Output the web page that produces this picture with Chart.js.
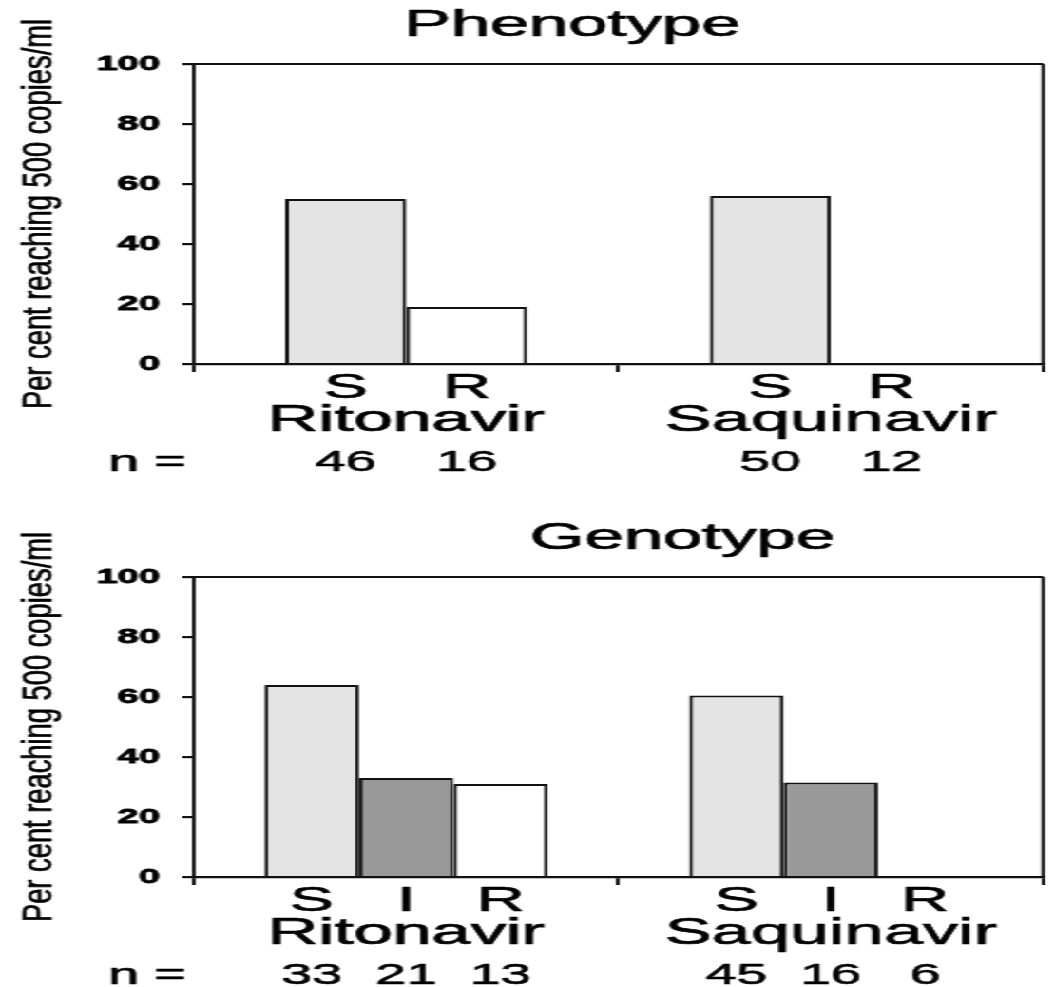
<!DOCTYPE html>
<html>
<head>
<meta charset="utf-8">
<script src="https://cdn.jsdelivr.net/npm/chart.js@4.4.0/dist/chart.umd.min.js"></script>
<style>
  html, body { margin: 0; padding: 0; background: #fff; overflow: hidden; }
  /* the figure is drawn narrow and stretched sideways, like the printed version */
  #wrap { width: 555px; transform: scaleX(1.9009); transform-origin: 0 0; }
  canvas { display: block; }
</style>
</head>
<body>
<div id="wrap">
  <canvas id="phenoChart" width="555" height="500"></canvas>
  <canvas id="genoChart" width="555" height="487"></canvas>
</div>
<script>
// drugs on the x axis
const drugs = ['Ritonavir', 'Saquinavir'];

// Phenotype: per cent reaching 500 copies/ml, by susceptible / resistant
const phenoS = [55, 56];
const phenoR = [19, 0];
const phenoCountS = [46, 50];
const phenoCountR = [16, 12];

// Genotype: susceptible / intermediate / resistant
const genoS = [64, 60.5];
const genoI = [33, 31.5];
const genoR = [31, 0];
const genoCountS = [33, 45];
const genoCountI = [21, 16];
const genoCountR = [13, 6];

const yTicks = [0, 20, 40, 60, 80, 100];

const FONT = '"Liberation Sans", Arial, Helvetica, sans-serif';
const INK = '#000';
const LINE = '#111';

// text drawn with a thin outline so it reads as heavy as print
function inkText(ctx, text, x, y, stroke) {
    ctx.lineWidth = stroke;
    ctx.strokeStyle = INK;
    ctx.strokeText(text, x, y);
    ctx.fillText(text, x, y);
}

// Box, title, class letters, n counts and the rotated y title
const panelText = {
    id: 'panelText',
    afterDraw(chart, args, opts) {
        const ctx = chart.ctx;
        const area = chart.chartArea;
        ctx.save();

        // top and right edges of the plot box
        ctx.strokeStyle = LINE;
        ctx.lineWidth = 2.2;
        ctx.beginPath();
        ctx.moveTo(area.left, area.top);
        ctx.lineTo(area.right, area.top);
        ctx.stroke();
        ctx.lineWidth = 1.9;
        ctx.beginPath();
        ctx.moveTo(area.right, area.top);
        ctx.lineTo(area.right, area.bottom);
        ctx.stroke();

        ctx.fillStyle = INK;
        ctx.textAlign = 'center';
        ctx.textBaseline = 'alphabetic';
        ctx.lineJoin = 'round';

        ctx.font = '37px ' + FONT;
        inkText(ctx, opts.title, area.left + opts.titleOffset, area.top - 28, 0.7);

        // letter and n under every bar
        chart.data.datasets.forEach((ds, i) => {
            const meta = chart.getDatasetMeta(i);
            meta.data.forEach((bar, j) => {
                ctx.font = '35px ' + FONT;
                inkText(ctx, ds.label, bar.x, area.bottom + 34, 0.7);
                ctx.font = '29px ' + FONT;
                inkText(ctx, String(opts.counts[i][j]), bar.x, area.bottom + 107, 0.6);
            });
        });
        ctx.textAlign = 'right';
        ctx.font = '29px ' + FONT;
        inkText(ctx, 'n =', area.left - 4, area.bottom + 107, 0.6);

        // y axis title, stretched along its length
        ctx.translate(21, (area.top + area.bottom) / 2);
        ctx.rotate(-Math.PI / 2);
        ctx.scale(1.27, 1);
        ctx.textAlign = 'center';
        ctx.textBaseline = 'middle';
        ctx.font = '21.5px ' + FONT;
        inkText(ctx, 'Per cent reaching 500 copies/ml', 0, 0, 0.5);

        ctx.restore();
    }
};

function makeBars(id, datasets, groupWidth, title, titleOffset, counts, topPad, axisHeight) {
    const ctx = document.getElementById(id).getContext('2d');
    return new Chart(ctx, {
        type: 'bar',
        data: {
            labels: drugs,
            datasets: datasets.map(d => ({
                label: d.label,
                data: d.data,
                backgroundColor: d.color,
                borderColor: LINE,
                borderWidth: 2,
                barPercentage: 1,
                categoryPercentage: groupWidth
            }))
        },
        options: {
            responsive: false,
            animation: false,
            events: [],
            layout: { padding: { top: topPad, right: 2, left: 0, bottom: 0 } },
            plugins: {
                legend: { display: false },
                tooltip: { enabled: false },
                panelText: { title: title, titleOffset: titleOffset, counts: counts }
            },
            scales: {
                x: {
                    afterFit(scale) { scale.height = axisHeight; },
                    grid: {
                        offset: true,
                        drawOnChartArea: false,
                        drawTicks: true,
                        tickLength: 8,
                        color: LINE,
                        lineWidth: 1.9
                    },
                    border: { display: true, color: LINE, width: 2.2 },
                    ticks: {
                        color: INK,
                        padding: 30,
                        textStrokeColor: INK,
                        textStrokeWidth: 0.7,
                        font: { family: FONT, size: 37, lineHeight: 1 }
                    }
                },
                y: {
                    min: 0,
                    max: 100,
                    afterFit(scale) { scale.width = 102; },
                    afterBuildTicks(scale) { scale.ticks = yTicks.map(v => ({ value: v })); },
                    grid: {
                        drawOnChartArea: false,
                        drawTicks: true,
                        tickLength: 6,
                        color: LINE,
                        lineWidth: 2.2
                    },
                    border: { display: true, color: LINE, width: 1.9 },
                    ticks: {
                        color: INK,
                        padding: 12,
                        textStrokeColor: INK,
                        textStrokeWidth: 0.8,
                        font: { family: FONT, size: 20, weight: 'bold' }
                    }
                }
            }
        },
        plugins: [panelText]
    });
}

makeBars('phenoChart', [
    { label: 'S', data: phenoS, color: '#e4e4e4' },
    { label: 'R', data: phenoR, color: '#ffffff' }
], 0.57, 'Phenotype', 199, [phenoCountS, phenoCountR], 64, 136);

makeBars('genoChart', [
    { label: 'S', data: genoS, color: '#e4e4e4' },
    { label: 'I', data: genoI, color: '#999999' },
    { label: 'R', data: genoR, color: '#ffffff' }
], 0.667, 'Genotype', 257, [genoCountS, genoCountI, genoCountR], 77, 110);
</script>
</body>
</html>
